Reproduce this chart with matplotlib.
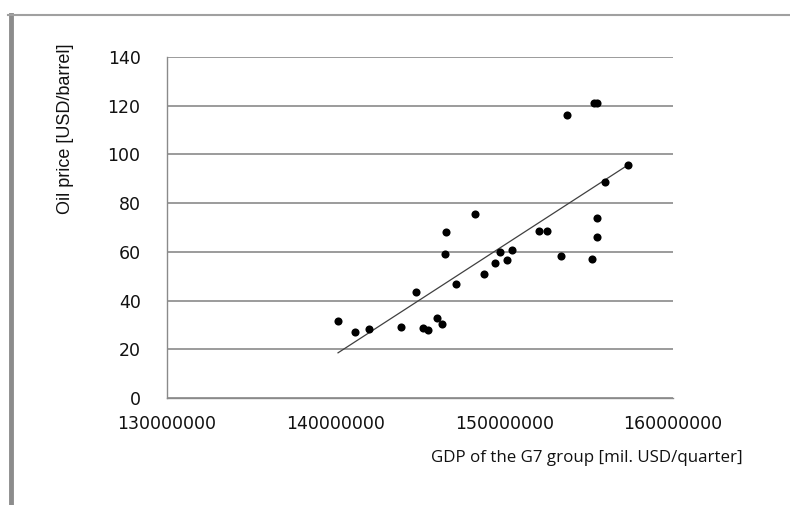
import matplotlib
matplotlib.use('Agg')
import matplotlib.pyplot as plt
from matplotlib.lines import Line2D
import numpy as np

# quarterly G7 GDP [mil. USD] and oil price [USD/barrel]
gdp = [140.14, 141.12, 141.97, 143.87, 144.76, 145.20, 145.46, 146.00,
       146.30, 146.50, 146.56, 147.11, 148.29, 148.79, 149.44, 149.74,
       150.14, 150.44, 152.04, 152.53, 153.35, 153.73, 155.22, 155.30,
       155.50, 155.52, 155.52, 155.96, 157.32]
oil = [31.8, 27.0, 28.5, 29.3, 43.5, 28.9, 27.9, 32.9,
       30.3, 59.2, 68.0, 46.9, 75.4, 51.1, 55.4, 60.0,
       56.5, 60.6, 68.6, 68.6, 58.5, 116.0, 57.0, 121.0,
       121.0, 73.9, 65.9, 88.6, 95.8]
x_ticks = [130000000, 140000000, 150000000, 160000000]
y_ticks = [0, 20, 40, 60, 80, 100, 120, 140]

x = np.array(gdp) * 1e6
y = np.array(oil)

fig = plt.figure(figsize=(7.9, 5.05), dpi=100)
ax = fig.add_axes([0.2114, 0.2119, 0.6405, 0.6752])

grid_col = '#8a8a8a'
ax.set_xlim(x_ticks[0], x_ticks[-1])
ax.set_ylim(y_ticks[0], y_ticks[-1])
ax.set_xticks(x_ticks)
ax.set_yticks(y_ticks)
ax.set_xticklabels([str(t) for t in x_ticks])
ax.set_yticklabels([str(t) for t in y_ticks])
ax.yaxis.grid(True, color=grid_col, lw=1.2)
ax.set_axisbelow(True)
for side in ['top', 'right']:
    ax.spines[side].set_visible(False)
for side in ['left', 'bottom']:
    ax.spines[side].set_color(grid_col)
    ax.spines[side].set_linewidth(1.0)
ax.tick_params(axis='both', length=0, labelsize=12.5, colors='#111111')
ax.tick_params(axis='y', pad=19)
ax.tick_params(axis='x', pad=12)

ax.scatter(x, y, s=34, color='black', zorder=3, lw=0)

# linear trendline over the data range
k, b = np.polyfit(x, y, 1)
xs = np.array([x.min(), x.max()])
ax.plot(xs, k * xs + b, color='#404040', lw=0.9, zorder=2)

fig.text(66 / 790, 1 - 129 / 505, 'Oil price [USD/barrel]', rotation=90,
         ha='center', va='center', fontsize=13, family='Liberation Sans',
         color='#111111')
fig.text(587 / 790, 1 - 458 / 505, 'GDP of the G7 group [mil. USD/quarter]',
         ha='center', va='center', fontsize=12.2, family='Open Sans',
         color='#111111')

# outer frame (left and top edges visible)
fig.add_artist(Line2D([10.5 / 790, 10.5 / 790], [0, 1 - 15 / 505],
                      transform=fig.transFigure, color='#8c8c8c', lw=3.5))
fig.add_artist(Line2D([8 / 790, 1], [1 - 15 / 505, 1 - 15 / 505],
                      transform=fig.transFigure, color='#a0a0a0', lw=1.5))

fig.savefig('out.png', dpi=100)
